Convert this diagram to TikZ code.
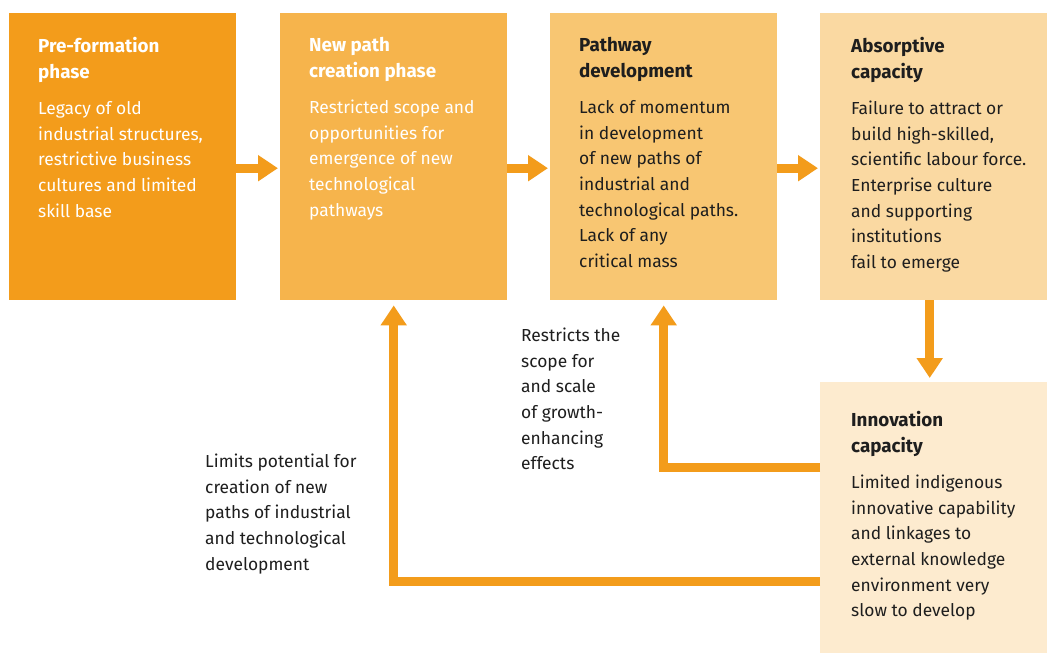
\documentclass[tikz,border=0pt]{standalone}
\usepackage{fontspec}
\setmainfont{Fira Sans}
\usetikzlibrary{arrows.meta}
\definecolor{cone}{HTML}{F39C1B}
\definecolor{ctwo}{HTML}{F6B44C}
\definecolor{cthree}{HTML}{F8C672}
\definecolor{cfour}{HTML}{FAD9A2}
\definecolor{cfive}{HTML}{FDEBCF}
\definecolor{arrowc}{HTML}{F39C1B}
\definecolor{dark}{HTML}{1E1E1E}
\newcommand{\ttl}[1]{{\fontsize{18.8}{25.6}\selectfont\bfseries #1}}
\begin{document}
\begin{tikzpicture}[x=1pt,y=-1pt,
  box/.style={draw=none,inner sep=0pt,anchor=north west,minimum width=227pt},
  txt/.style={inner sep=0pt,anchor=north west,align=left,font=\fontsize{17.4}{25.6}\selectfont},
  arr/.style={line width=9pt,draw=arrowc,-{Triangle[length=20pt,width=25pt]}}]
\useasboundingbox[fill=white] (0,0) rectangle (1048,658);
\node[box,fill=cone,minimum height=287pt] (b1) at (9,13) {};
\node[box,fill=ctwo,minimum height=287pt] (b2) at (280,13) {};
\node[box,fill=cthree,minimum height=287pt] (b3) at (550,13) {};
\node[box,fill=cfour,minimum height=287pt] (b4) at (820,13) {};
\node[box,fill=cfive,minimum height=271pt] (b5) at (820,382) {};
\node[txt,white] (t1) at (38,37) {\ttl{Pre-formation}\\\ttl{phase}\\[11pt]Legacy of old\\industrial structures,\\restrictive business\\cultures and limited\\skill base};
\node[txt,white] (t2) at (309,37) {\ttl{New path}\\\ttl{creation phase}\\[11pt]Restricted scope and\\opportunities for\\emergence of new\\technological\\pathways};
\node[txt,dark] (t3) at (579,37) {\ttl{Pathway}\\\ttl{development}\\[11pt]Lack of momentum\\in development\\of new paths of\\industrial and\\technological paths.\\Lack of any\\critical mass};
\node[txt,dark] (t4) at (851,37) {\ttl{Absorptive}\\\ttl{capacity}\\[11pt]Failure to attract or\\build high-skilled,\\scientific labour force.\\Enterprise culture\\and supporting\\institutions\\fail to emerge};
\node[txt,dark] (t5) at (851,411) {\ttl{Innovation}\\\ttl{capacity}\\[11pt]Limited indigenous\\innovative capability\\and linkages to\\external knowledge\\environment very\\slow to develop};
\node[txt,dark] (l1) at (521,328) {Restricts the\\scope for\\and scale\\of growth-\\enhancing\\effects};
\node[txt,dark] (l2) at (205,454) {Limits potential for\\creation of new\\paths of industrial\\and technological\\development};
\draw[arr,shorten >=2pt] ([yshift=-11.5pt]b1.east) -- ([yshift=-11.5pt]b2.west);
\draw[arr,shorten >=2pt] ([yshift=-11.5pt]b2.east) -- ([yshift=-11.5pt]b3.west);
\draw[arr,shorten >=2pt] ([yshift=-11.5pt]b3.east) -- ([yshift=-11.5pt]b4.west);
\draw[arr,shorten >=4pt] ([xshift=-4pt]b4.south) -- ([xshift=-4pt]b5.north);
\draw[arr,shorten >=5pt] ([yshift=50pt]b5.west) -| (b3.south);
\draw[arr,shorten >=5pt] ([yshift=-64pt]b5.west) -| (b2.south);
\end{tikzpicture}
\end{document}
